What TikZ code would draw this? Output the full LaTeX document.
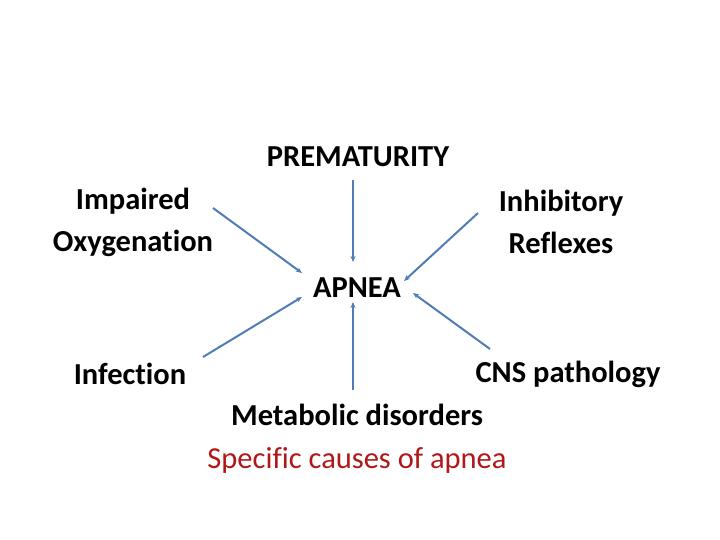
\documentclass[tikz,border=0pt]{standalone}
\usepackage{fontspec}
\setmainfont[Ligatures={NoCommon}]{Carlito}
\usetikzlibrary{arrows.meta}
\definecolor{linkblue}{RGB}{79,125,180}
\definecolor{causered}{RGB}{176,24,24}
\tikzset{
  lbl/.style={font=\fontsize{30.5}{42}\selectfont\bfseries, align=center, inner sep=0pt},
  link/.style={draw=linkblue, line width=2pt, -{Stealth[length=6pt,width=5pt]}}
}
\begin{document}
\begin{tikzpicture}[x=1pt,y=-1pt]
\useasboundingbox (0,0) rectangle (720,540);
\node[lbl] (prem) at (358,157) {PREMATURITY};
\node[lbl] (oxy) at (133,222) {Impaired\\Oxygenation};
\node[lbl] (inh) at (561,222) {Inhibitory\\Reflexes};
\node[lbl] (apnea) at (357,288) {APNEA};
\node[lbl] (inf) at (130,374) {Infection};
\node[lbl] (cns) at (568,374) {CNS pathology};
\node[lbl] (meta) at (357,415) {Metabolic disorders};
\node[lbl, font=\fontsize{30.5}{42}\selectfont, text=causered] (spec) at (357,460) {Specific causes of apnea};
\coordinate (p1) at (353,180); \coordinate (p2) at (353,262);
\coordinate (o1) at (213,208); \coordinate (o2) at (302,273);
\coordinate (i1) at (478,213); \coordinate (i2) at (404,281);
\coordinate (f1) at (203,357); \coordinate (f2) at (302,297);
\coordinate (m1) at (353,390); \coordinate (m2) at (353,302);
\coordinate (c1) at (490,349); \coordinate (c2) at (413,293);
\draw[link] (p1) -- (p2);
\draw[link] (o1) -- (o2);
\draw[link] (i1) -- (i2);
\draw[link] (f1) -- (f2);
\draw[link] (m1) -- (m2);
\draw[link] (c1) -- (c2);
\end{tikzpicture}
\end{document}
